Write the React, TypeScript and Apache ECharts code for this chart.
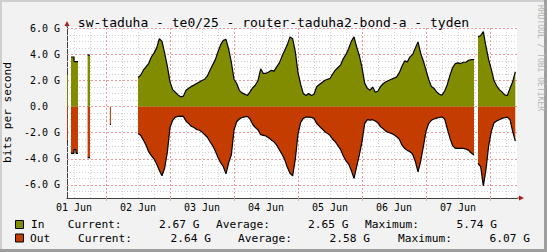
import React, { useEffect, useRef } from 'react';
import * as echarts from 'echarts';

const TITLE = 'sw-taduha - te0/25 - router-taduha2-bond-a - tyden';
const Y_NAME = 'bits per second';
const SIDE_TEXT = 'RRDTOOL / TOBI OETIKER';

// time axis in hours since 01 Jun 00:00
const X_MIN = 9.375;
const X_MAX = 178.125;
const Y_MIN = -7;
const Y_MAX = 6.1;

const DAY_LABELS = ['01 Jun', '02 Jun', '03 Jun', '04 Jun', '05 Jun', '06 Jun', '07 Jun'];
const LABEL_HOURS = [12, 36, 60, 84, 108, 132, 156];
const MIDNIGHT_HOURS = [24, 48, 72, 96, 120, 144, 168];
const Y_LABEL_VALUES = [-6, -4, -2, 0, 2, 4, 6];

// early sparse samples: [startHour, endHour, value in G]
const EARLY_IN_BLOCKS = [
  [9.38, 9.7, 2.48],
  [10.875, 12.0, 3.8],
  [12.0, 13.5, 3.45],
  [17.1, 18.0, 3.94],
];
const EARLY_OUT_BLOCKS = [
  [9.38, 9.7, -2.64],
  [10.875, 12.0, -3.58],
  [12.0, 12.75, -3.3],
  [12.75, 13.5, -3.58],
  [17.1, 18.0, -3.9],
  [25.45, 25.85, -1.36],
];

// main hourly samples
const MAIN_START = 36;
const IN_MAIN = [
  2.23, 2.4, 2.79, 3.05, 3.3, 3.8, 4.1, 4.5, 5.2, 5.0, 4.1, 3.1,
  1.9, 1.3, 1.1, 0.9, 0.75, 0.8, 1.25, 1.4, 1.55, 1.65, 1.77, 1.88,
  2.0, 2.1, 2.35, 2.79, 3.2, 3.6, 4.2, 4.75, 5.08, 5.15, 4.4, 3.4,
  2.1, 1.77, 1.25, 1.05, 0.96, 0.85, 1.13, 1.45, 1.64, 2.0, 2.9, 2.54,
  2.55, 2.66, 2.78, 2.72, 3.05, 3.35, 3.85, 4.3, 4.75, 5.34, 5.2, 4.2,
  2.6, 1.7, 1.0, 0.85, 1.0, 0.85, 0.95, 1.52, 1.7, 1.85, 2.0, 2.1,
  2.15, 2.5, 2.8, 3.0, 3.2, 3.68, 4.0, 4.45, 5.0, 5.35, 4.58, 3.9,
  3.0, 1.8, 1.4, 1.26, 1.5, 1.1, 1.2, 1.55, 1.77, 1.9, 2.0, 2.1,
  2.18, 2.28, 2.6, 3.1, 3.5, 3.43, 3.81, 4.0, 4.5, 4.96, 4.1, 3.5,
  2.8, 2.1, 1.55, 1.4, 1.13, 0.95, 0.88, 1.2, 1.7, 2.41, 3.0, 3.3,
  3.35, 3.3, 3.4, 3.4, 3.55, 3.6, 3.6,
];
const OUT_MAIN = [
  -2.05, -2.2, -2.56, -2.94, -3.45, -3.75, -4.0, -4.4, -4.9, -5.3, -4.7, -3.5,
  -1.6, -1.05, -0.8, -0.75, -0.73, -0.75, -1.1, -1.3, -1.5, -1.6, -1.75, -1.8,
  -1.95, -2.15, -2.35, -2.69, -3.0, -3.4, -3.9, -4.3, -4.6, -5.15, -4.3, -3.7,
  -1.8, -1.16, -0.95, -0.83, -0.78, -0.75, -0.95, -1.35, -1.6, -1.78, -2.15, -2.2,
  -2.25, -2.38, -2.55, -2.7, -2.95, -3.3, -3.65, -4.05, -4.65, -5.1, -5.3, -4.0,
  -2.1, -1.2, -0.9, -0.8, -0.8, -0.82, -0.9, -1.29, -1.5, -1.7, -1.9, -2.05,
  -2.2, -2.5, -2.7, -3.0, -3.3, -3.78, -4.15, -4.4, -4.9, -5.5, -4.6, -3.7,
  -2.7, -1.3, -1.0, -1.03, -1.0, -1.1, -1.25, -1.55, -1.7, -1.9, -1.98, -2.05,
  -2.15, -2.3, -2.5, -2.95, -3.2, -3.35, -3.45, -3.65, -4.2, -5.0, -4.2, -3.07,
  -1.9, -1.3, -1.05, -0.95, -0.88, -0.83, -0.78, -0.95, -1.7, -2.43, -3.0, -3.2,
  -3.2, -3.2, -3.2, -3.25, -3.35, -3.55, -3.7,
];

// samples after the short gap on 07 Jun
const SEG_B_START = 163.5;
const IN_SEG_B = [5.34, 5.45, 5.74, 4.6, 3.6, 2.85, 2.0, 1.6, 1.3, 1.13, 0.9, 0.85, 1.4, 1.9, 2.67];
const OUT_SEG_B = [-4.35, -4.6, -6.07, -4.8, -3.0, -1.9, -1.25, -1.1, -1.0, -0.9, -0.85, -0.8, -1.0, -1.9, -2.64];

// legend
const LEGEND_NAMES = ['In', 'Out'];
const LEGEND_CURRENT = ['2.67 G', '2.64 G'];
const LEGEND_AVERAGE = ['2.65 G', '2.58 G'];
const LEGEND_MAXIMUM = ['5.74 G', '6.07 G'];

const IN_COLOR = '#818c00';
const OUT_COLOR = '#c43c00';
const MONO = '"DejaVu Sans Mono", monospace';

function buildData(blocks: number[][], segments: { start: number; values: number[] }[]) {
  const pts: (number | null)[][] = [];
  let prevEnd: number | null = null;
  for (const [s, e, v] of blocks) {
    if (prevEnd !== null && Math.abs(s - prevEnd) > 1e-6) pts.push([(s + prevEnd) / 2, null]);
    pts.push([s, v], [e, v]);
    prevEnd = e;
  }
  for (const seg of segments) {
    const last = pts.length ? (pts[pts.length - 1][0] as number) : seg.start - 1;
    pts.push([(last + seg.start) / 2, null]);
    seg.values.forEach((v, i) => pts.push([seg.start + i, v]));
  }
  return pts;
}

const MINOR_STYLE = { color: '#cfcfcf', type: [1, 2], width: 1 };
const MAJOR_STYLE = { color: '#ee9a9a', type: [2, 2], width: 1 };

function gridLines() {
  const items: any[] = [];
  for (let v = -6.5; v <= 6.01; v += 0.5) {
    if (Math.abs(v % 2) > 1e-6) items.push({ yAxis: v, lineStyle: MINOR_STYLE });
  }
  for (let h = 6; h < X_MAX; h += 6) {
    if (h > X_MIN && h % 24 !== 0) items.push({ xAxis: h, lineStyle: MINOR_STYLE });
  }
  for (const v of Y_LABEL_VALUES) items.push({ yAxis: v, lineStyle: MAJOR_STYLE });
  for (const h of MIDNIGHT_HOURS) items.push({ xAxis: h, lineStyle: MAJOR_STYLE });
  return items;
}

function legendGraphics() {
  const els: any[] = [];
  const rows = [
    { y: 224.5, box: 15, name: 31, cur: 67.7, curV: 199.5, avg: 216, avgV: 348.5, max: 365, maxV: 497 },
    { y: 238, box: 15, name: 30, cur: 78, curV: 211, avg: 238, avgV: 370, max: 398, maxV: 530 },
  ];
  const colors = [IN_COLOR, OUT_COLOR];
  const font = '11.2px ' + MONO;
  const txt = (x: number, y: number, text: string, align: string) => ({
    type: 'text', x, y, silent: true,
    style: { text, font, fill: '#000', align, verticalAlign: 'middle', textAlign: align, textVerticalAlign: 'middle' },
  });
  rows.forEach((r, i) => {
    els.push({ type: 'rect', shape: { x: r.box + 0.5, y: r.y - 4, width: 8, height: 8 }, style: { fill: colors[i], stroke: '#000', lineWidth: 1 } });
    els.push(txt(r.name, r.y, LEGEND_NAMES[i], 'left'));
    els.push(txt(r.cur, r.y, 'Current:', 'left'));
    els.push(txt(r.curV, r.y, LEGEND_CURRENT[i], 'right'));
    els.push(txt(r.avg, r.y, 'Average:', 'left'));
    els.push(txt(r.avgV, r.y, LEGEND_AVERAGE[i], 'right'));
    els.push(txt(r.max, r.y, 'Maximum:', 'left'));
    els.push(txt(r.maxV, r.y, LEGEND_MAXIMUM[i], 'right'));
  });
  return els;
}

export default function App() {
  const ref = useRef<HTMLDivElement>(null);
  useEffect(() => {
    const chart = echarts.init(ref.current!, null, { renderer: 'svg' });
    const inData = buildData(EARLY_IN_BLOCKS, [
      { start: MAIN_START, values: IN_MAIN },
      { start: SEG_B_START, values: IN_SEG_B },
    ]);
    const outData = buildData(EARLY_OUT_BLOCKS, [
      { start: MAIN_START, values: OUT_MAIN },
      { start: SEG_B_START, values: OUT_SEG_B },
    ]);
    const gridLeft = 67, gridTop = 27, gridW = 450, gridH = 171;
    const axisY = gridTop + gridH;
    const arrowColor = '#b01c1c';
    const option: any = {
      animation: false,
      backgroundColor: '#f2f2f2',
      title: {
        text: TITLE, left: 'center', top: 11,
        textStyle: { fontFamily: MONO, fontSize: 13, fontWeight: 'normal', color: '#000' },
      },
      grid: {
        left: gridLeft, top: gridTop, width: gridW, height: gridH,
        containLabel: false, outerBoundsMode: 'none',
        show: true, backgroundColor: '#fff', borderWidth: 0,
      },
      xAxis: {
        type: 'value', min: X_MIN, max: X_MAX,
        splitLine: { show: false },
        axisLine: { show: true, onZero: false, lineStyle: { color: '#404040', width: 1 } },
        axisTick: { show: true, customValues: MIDNIGHT_HOURS, length: 3, lineStyle: { color: '#ee9a9a' } },
        axisLabel: {
          customValues: LABEL_HOURS, margin: 4,
          fontFamily: MONO, fontSize: 10, color: '#000',
          formatter: (v: number) => DAY_LABELS[LABEL_HOURS.indexOf(Math.round(v))] || '',
        },
      },
      yAxis: {
        type: 'value', min: Y_MIN, max: Y_MAX,
        name: Y_NAME, nameLocation: 'middle', nameRotate: 90, nameGap: 50,
        nameTextStyle: { fontFamily: MONO, fontSize: 11.2, color: '#000' },
        splitLine: { show: false },
        axisLine: { show: true, onZero: false, lineStyle: { color: '#404040', width: 1 } },
        axisTick: { show: false },
        axisLabel: {
          customValues: Y_LABEL_VALUES, margin: 7,
          fontFamily: MONO, fontSize: 10, color: '#000',
          formatter: (v: number) => (v === 0 ? '{z|0.0}' : (v.toFixed(1) + ' G')),
          rich: { z: { fontFamily: MONO, fontSize: 10, color: '#000', padding: [0, 12, 0, 0] } },
        },
      },
      series: [
        {
          type: 'line', name: 'grid', data: [[X_MIN, 0], [X_MAX, 0]], z: 1, silent: true,
          symbol: 'none', showSymbol: false,
          lineStyle: { opacity: 0, width: 0 },
          markLine: { z: 1, silent: true, symbol: ['none', 'none'], label: { show: false }, animation: false, data: gridLines() },
        },
        {
          type: 'line', name: 'In', data: inData, z: 4, silent: true, symbol: 'none', showSymbol: false,
          connectNulls: false,
          lineStyle: { color: '#000', width: 1.2 },
          areaStyle: { color: IN_COLOR, opacity: 1 },
        },
        {
          type: 'line', name: 'Out', data: outData, z: 4, silent: true, symbol: 'none', showSymbol: false,
          connectNulls: false,
          lineStyle: { color: '#000', width: 1.2 },
          areaStyle: { color: OUT_COLOR, opacity: 1 },
        },
      ],
      graphic: [
        { type: 'rect', shape: { x: 0, y: 0, width: 547, height: 2 }, style: { fill: '#cfcfcf' }, silent: true },
        { type: 'rect', shape: { x: 0, y: 0, width: 2, height: 252 }, style: { fill: '#cfcfcf' }, silent: true },
        { type: 'rect', shape: { x: 0, y: 249, width: 547, height: 3 }, style: { fill: '#9e9e9e' }, silent: true },
        { type: 'rect', shape: { x: 544, y: 0, width: 3, height: 252 }, style: { fill: '#9e9e9e' }, silent: true },
        { type: 'line', shape: { x1: gridLeft + gridW, y1: axisY, x2: gridLeft + gridW + 3, y2: axisY }, style: { stroke: '#404040', lineWidth: 1 }, silent: true },
        { type: 'polygon', shape: { points: [[gridLeft + gridW + 2, axisY - 2.5], [gridLeft + gridW + 7, axisY], [gridLeft + gridW + 2, axisY + 2.5]] }, style: { fill: arrowColor }, silent: true },
        { type: 'line', shape: { x1: gridLeft, y1: gridTop, x2: gridLeft, y2: gridTop - 2 }, style: { stroke: '#404040', lineWidth: 1 }, silent: true },
        { type: 'polygon', shape: { points: [[gridLeft - 2.5, gridTop - 1], [gridLeft, gridTop - 6], [gridLeft + 2.5, gridTop - 1]] }, style: { fill: arrowColor }, silent: true },
        {
          type: 'text', x: 540, y: 5, rotation: -Math.PI / 2, silent: true,
          style: { text: SIDE_TEXT, font: '8px ' + MONO, fill: '#b4b4b4', align: 'left', verticalAlign: 'middle', textAlign: 'left', textVerticalAlign: 'middle' },
        },
        ...legendGraphics(),
      ],
    };
    chart.setOption(option);
    return () => chart.dispose();
  }, []);
  return <div ref={ref} style={{ position: 'fixed', left: 0, top: 0, width: 547, height: 252 }} />;
}
